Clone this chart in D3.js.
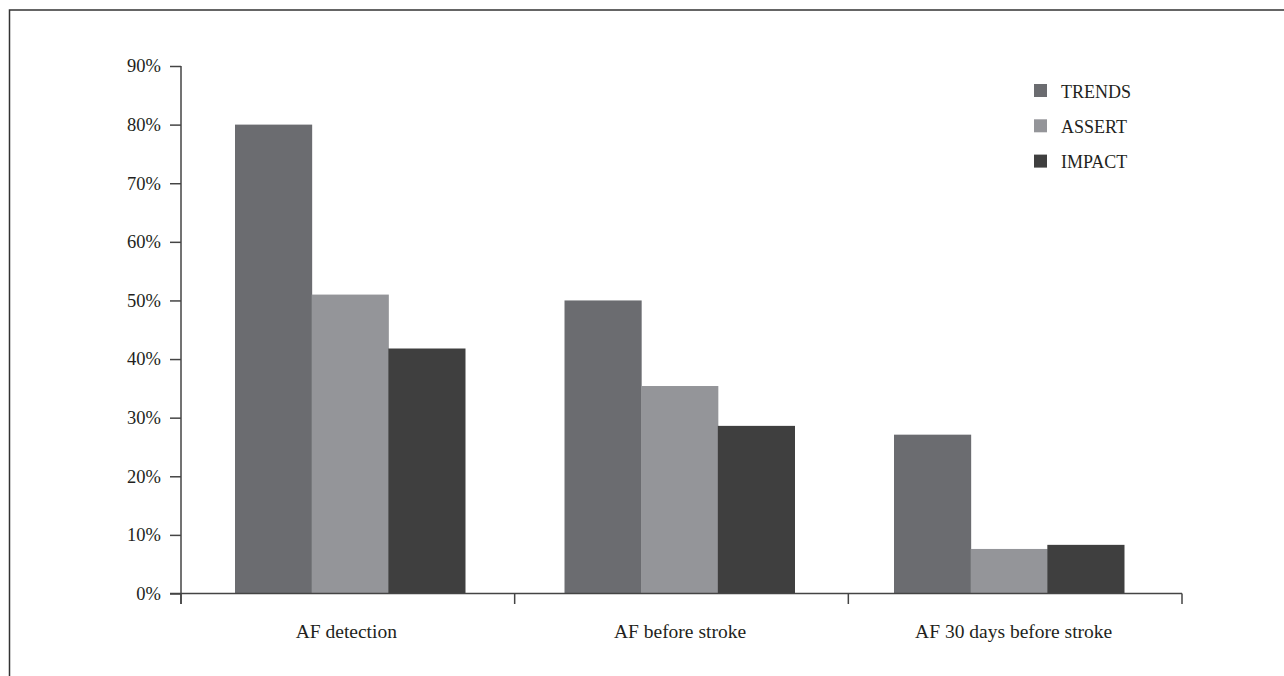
<!DOCTYPE html>
<html><head><meta charset="utf-8">
<script src="https://cdn.jsdelivr.net/npm/d3@7"></script>
<style>html,body{margin:0;padding:0;background:#fff;overflow:hidden}</style>
</head><body>
<svg id="chart" width="1284" height="676"></svg>
<script>
const categories = ["AF detection", "AF before stroke", "AF 30 days before stroke"];
const seriesNames = ["TRENDS", "ASSERT", "IMPACT"];
const trendsValues = [80, 50, 27.1];
const assertValues = [51, 35.4, 7.6];
const impactValues = [41.8, 28.6, 8.3];
const yTicks = [0, 10, 20, 30, 40, 50, 60, 70, 80, 90];
const colors = ["#6b6c70", "#949599", "#3f3f3f"];

const seriesValues = [trendsValues, assertValues, impactValues];
const svg = d3.select("#chart");
const font = "'Liberation Serif', 'DejaVu Serif', serif";
const axisColor = "#444";
const textColor = "#231f20";

// frame (top and left edges)
svg.append("path").attr("d", "M9.5,676 L9.5,10 L1284,10")
  .attr("fill", "none").attr("stroke", "#333").attr("stroke-width", 1.5);

// axis band scale (ticks at band boundaries)
const x0 = d3.scaleBand().domain(categories).range([181, 1182]).paddingInner(0).paddingOuter(0);
// bar-group placement scale
const xg = d3.scaleBand().domain(categories).range([185.25, 1173.75]).paddingInner(0).paddingOuter(0);
const x1 = d3.scaleBand().domain(seriesNames).range([0, xg.bandwidth()]).paddingOuter(0.649).paddingInner(0);
const y = d3.scaleLinear().domain([0, 90]).range([593.5, 66]);

// bars
categories.forEach((c, ci) => {
  const g = svg.append("g").attr("transform", `translate(${xg(c)},0)`);
  seriesNames.forEach((s, si) => {
    const v = seriesValues[si][ci];
    g.append("rect")
      .attr("x", x1(s)).attr("width", x1.bandwidth() + 0.5)
      .attr("y", y(v)).attr("height", y(0) - y(v))
      .attr("fill", colors[si]);
  });
});

// y axis
const yAxis = d3.axisLeft(y).tickValues(yTicks).tickFormat(d => d + "%").tickSize(11).tickPadding(9);
const ya = svg.append("g").attr("transform", "translate(181,0)").call(yAxis);
ya.select(".domain").remove();
ya.append("line").attr("x1", 0).attr("x2", 0).attr("y1", 66).attr("y2", 604)
  .attr("stroke", axisColor).attr("stroke-width", 1.5);
ya.selectAll(".tick line").attr("stroke", axisColor).attr("stroke-width", 1.5);
ya.selectAll(".tick text").attr("font-family", font).attr("font-size", 18.5).attr("fill", textColor);

// x axis
const xa = svg.append("g").attr("transform", `translate(0,${y(0)})`);
xa.append("line").attr("x1", 170).attr("x2", 1182).attr("y1", 0).attr("y2", 0)
  .attr("stroke", axisColor).attr("stroke-width", 1.5);
const boundaries = categories.map(c => x0(c)).concat([x0.range()[1]]);
xa.selectAll("line.tk").data(boundaries).enter().append("line").attr("class", "tk")
  .attr("x1", d => d).attr("x2", d => d).attr("y1", 0).attr("y2", 10.5)
  .attr("stroke", axisColor).attr("stroke-width", 1.5);
xa.selectAll("text.cat").data(categories).enter().append("text").attr("class", "cat")
  .attr("x", d => x0(d) + x0.bandwidth() / 2 - 1.5).attr("y", 44.5)
  .attr("text-anchor", "middle").attr("font-family", font).attr("font-size", 19.5).attr("fill", textColor)
  .text(d => d);

// legend
const legend = svg.append("g").attr("transform", "translate(1034,0)");
seriesNames.forEach((s, i) => {
  const cy = 90.5 + i * 35.3;
  legend.append("rect").attr("x", 0).attr("y", cy - 6.5).attr("width", 13).attr("height", 13).attr("fill", colors[i]);
  legend.append("text").attr("x", 27).attr("y", cy + 7).attr("font-family", font).attr("font-size", 18)
    .attr("fill", textColor).text(s);
});
</script>
</body></html>
